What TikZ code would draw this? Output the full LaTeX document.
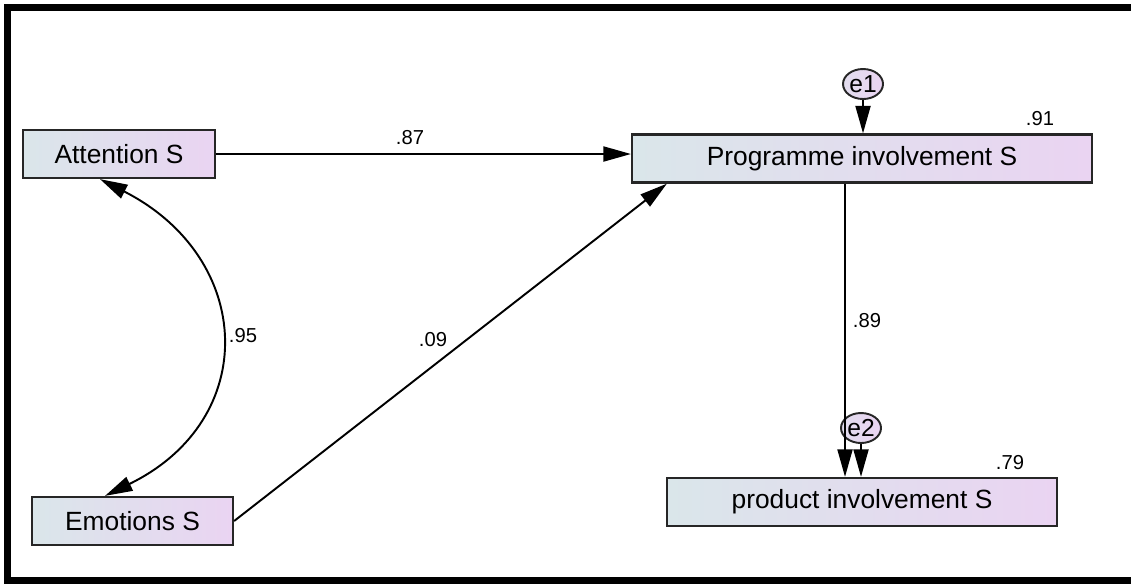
\documentclass[tikz,border=0pt]{standalone}
\usepackage{fontspec}
\setmainfont{Liberation Sans}
\usetikzlibrary{arrows.meta,shapes.geometric}
\definecolor{boxleft}{RGB}{218,230,234}
\definecolor{boxright}{RGB}{234,212,242}
\tikzset{
	box/.style={draw=black!85,line width=1.3pt,left color=boxleft,right color=boxright,
		minimum height=0.96cm,inner sep=0pt,font=\fontsize{15}{17}\selectfont},
	err/.style={ellipse,draw=black!85,line width=1.1pt,left color=boxleft!50!boxright,right color=boxright,
		minimum width=0.8cm,minimum height=0.6cm,inner sep=0pt,font=\fontsize{14}{16}\selectfont},
	reg/.style={line width=1.1pt,-{Triangle[length=0.55cm,width=0.3cm]}},
	cov/.style={line width=1.1pt,{Triangle[length=0.55cm,width=0.3cm]}-{Triangle[length=0.55cm,width=0.3cm]}},
	lbl/.style={font=\fontsize{11.5}{13}\selectfont,inner sep=1pt},
}
\begin{document}
\begin{tikzpicture}[x=0.02cm,y=-0.02cm]
		\useasboundingbox(0,0)rectangle(1131,583);
		% frame
		\draw[line width=0.15cm](1131,7.5)--(7.5,7.5)--(7.5,580.5)--(1131,580.5);
		% variables
		\node[box,minimum width=3.84cm](att)at(119,154){Attention S};
		\node[box,minimum width=4.02cm](emo)at(132.5,521){Emotions S};
		\node[box,minimum width=9.2cm](prog)at(862,158.5){Programme involvement S};
		\node[box,minimum width=7.8cm](prod)at(862,502){product involvement S};
		\node[err](e1)at(863,84){e1};
		\node[err](e2)at(861,428){e2};
		% paths
		\draw[reg](att.east)--(att.east-|prog.west);
		\draw[reg](emo.east)--([xshift=0.72cm]prog.south west);
		\draw[reg]([xshift=-0.34cm]prog.south)--([xshift=-0.34cm]prog.south|-prod.north);
		\draw[reg](e1)--(e1|-prog.north);
		\draw[reg](e2)--(e2|-prod.north);
		\draw[cov]([xshift=-0.38cm]att.south)to[out=-27,in=26,looseness=1.4]([xshift=-0.55cm]emo.north);
		% estimates
		\node[lbl](w1)at(410,138){.87};
		\node[lbl](w2)at(433,340){.09};
		\node[lbl](w3)at(243,336){.95};
		\node[lbl](w4)at(867,321){.89};
		\node[lbl](r1)at(1040,119){.91};
		\node[lbl](r2)at(1010,463){.79};
	\end{tikzpicture}
\end{document}
